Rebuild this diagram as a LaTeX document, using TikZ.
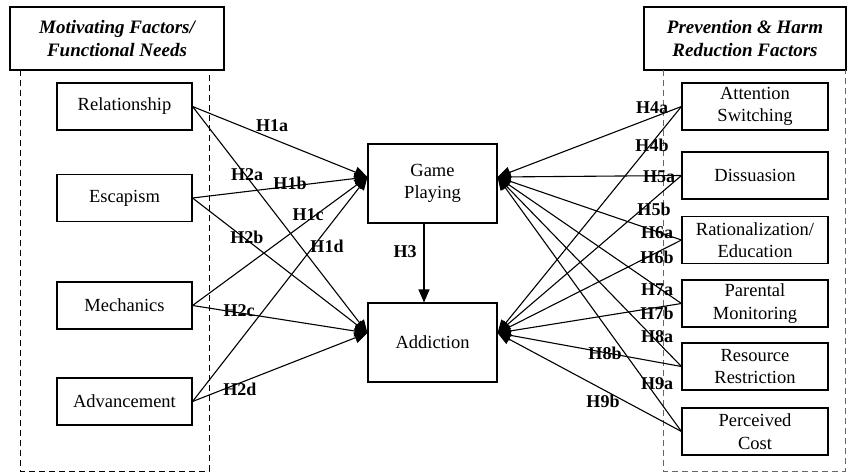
\documentclass[tikz,border=0pt]{standalone}
\usepackage{fontspec}
\setmainfont{Liberation Serif}
\usetikzlibrary{arrows.meta}
\tikzset{
  factor/.style={
    draw,
    line width=1.1pt,
    align=center,
    inner sep=0pt,
    minimum width=135pt,
    minimum height=47pt,
    font=\fontsize{18.5}{22.5}\selectfont
  },
  rfactor/.style={
    factor,
    minimum width=146pt
  },
  core/.style={
    factor,
    minimum width=129pt,
    minimum height=79pt
  },
  header/.style={
    draw,
    line width=1.1pt,
    align=center,
    inner sep=0pt,
    minimum width=214pt,
    minimum height=63pt,
    font=\fontsize{19}{22.5}\selectfont\bfseries\itshape
  },
  region/.style={
    dashed,
    line width=1pt,
    dash pattern=on 6pt off 4pt
  },
  arr/.style={
    line width=1.1pt,
    -{Triangle[length=13pt,width=11pt]}
  },
  hyp/.style={
    inner sep=0pt,
    font=\fontsize{18}{20}\selectfont\bfseries
  }
}
\begin{document}
\begin{tikzpicture}[x=1pt,y=-1pt]
  \useasboundingbox (0,0) rectangle (847,472);
  % group headers and dashed regions
  \node[header] (mot) at (117,38.5) {Motivating Factors/\\Functional Needs};
  \node[header, minimum width=202pt] (prev) at (745,38.5) {Prevention \& Harm\\Reduction Factors};
  \draw[region] (20,70) -- (20,471) -- (209,471) -- (209,70);
  \draw[region, black!60] (663,70) -- (663,471) -- (845,471) -- (845,70);
  % factors
  \foreach \nm/\txt/\y in {rel/Relationship/106.5, esc/Escapism/198, mech/Mechanics/305.5, adv/Advancement/401.5}{
    \node[factor] (\nm) at (124.5,\y) {\txt};
  }
  \foreach \nm/\txt/\y in {att/{Attention\\Switching}/106.5, dis/Dissuasion/175.5, rat/{Rationalization/\\Education}/240,
                           par/{Parental\\Monitoring}/303.5, res/{Resource\\Restriction}/366.5, cost/{Perceived\\Cost}/431.5}{
    \node[rfactor] (\nm) at (755,\y) {\txt};
  }
  \node[core] (gp) at (432.5,183.5) {Game\\Playing};
  \node[core] (add) at (432.5,342.5) {Addiction};
  \coordinate (gpl) at ([yshift=6.5pt]gp.west);
  \coordinate (gpr) at ([yshift=6.5pt]gp.east);
  \coordinate (addl) at ([yshift=9.5pt]add.west);
  \coordinate (addr) at ([yshift=9.5pt]add.east);
  % hypotheses
  \foreach \src/\dst/\lab/\pos in {rel/gpl/H1a/{272,126}, rel/addl/H2a/{247,175},
                                   esc/gpl/H1b/{290,183}, esc/addl/H2b/{247,237},
                                   mech/gpl/H1c/{308,215}, mech/addl/H2c/{239,311},
                                   adv/gpl/H1d/{327,246}, adv/addl/H2d/{240,389}}{
    \draw[arr] (\src.east) -- (\dst);
    \node[hyp] (\lab) at (\pos) {\lab};
  }
  \foreach \src/\dst/\lab/\pos in {att/gpr/H4a/{652,108}, att/addr/H4b/{652,145},
                                   dis/gpr/H5a/{659,177}, dis/addr/H5b/{654,209},
                                   rat/gpr/H6a/{657,233}, rat/addr/H6b/{657,257},
                                   par/gpr/H7a/{657,290}, par/addr/H7b/{657,313},
                                   res/gpr/H8a/{657,337}, res/addr/H8b/{605,353},
                                   cost/gpr/H9a/{657,384}, cost/addr/H9b/{603,401}}{
    \draw[arr] (\src.west) -- (\dst);
    \node[hyp] (\lab) at (\pos) {\lab};
  }
  \draw[arr] ([xshift=-8.5pt]gp.south) -- ([xshift=-8.5pt]add.north);
  \node[hyp] (H3) at (405,252) {H3};
\end{tikzpicture}
\end{document}
